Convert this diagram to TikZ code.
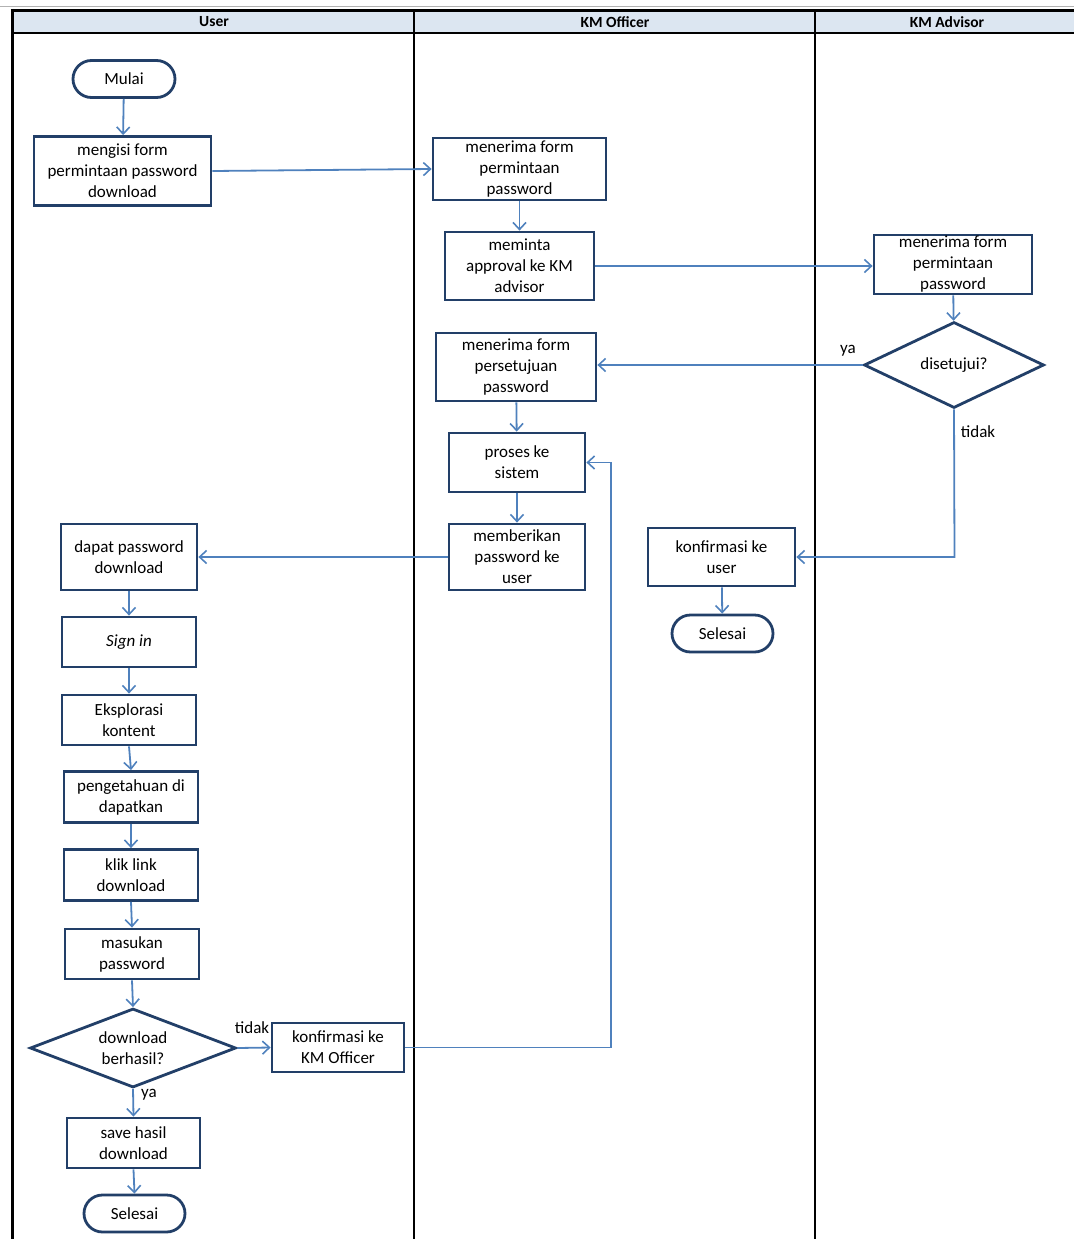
\documentclass[tikz,border=0pt]{standalone}
\usepackage{fontspec}
\setmainfont{Carlito}
\usetikzlibrary{shapes.geometric,shapes.misc,arrows.meta}
\definecolor{boxline}{HTML}{223F68}
\definecolor{flow}{HTML}{4F81BD}
\definecolor{lanehead}{HTML}{DCE6F1}
\begin{document}
\begin{tikzpicture}[x=1pt,y=-1pt,
  stepbox/.style={draw=boxline,line width=2.8pt,rectangle,align=center,
    inner sep=0pt,font=\fontsize{17}{21}\selectfont},
  term/.style={draw=boxline,line width=2.8pt,rounded rectangle,align=center,
    inner sep=0pt,font=\fontsize{17}{21}\selectfont},
  choice/.style={draw=boxline,line width=2.8pt,diamond,aspect=2,align=center,
    inner sep=0pt,font=\fontsize{17}{21}\selectfont},
  flowline/.style={draw=flow,line width=1.8pt,-{Straight Barb[length=7pt,width=13pt,line width=1.6pt]}},
  lbl/.style={font=\fontsize{17}{19}\selectfont,inner sep=1pt},
  head/.style={font=\fontsize{15.5}{17}\selectfont\bfseries}]
\useasboundingbox (0,0) rectangle (1074,1239);

% swimlane frame
\fill[lanehead] (12,11) rectangle (1074,33);
\draw[gray!60,line width=1pt] (0,6.5) -- (1074,6.5);
\draw[line width=3pt] (10.5,10.5) -- (1074,10.5);
\draw[line width=2.4pt] (12,33) -- (1074,33);
\draw[line width=3pt] (12,9) -- (12,1239);
\draw[line width=2pt] (414,10) -- (414,1239);
\draw[line width=2pt] (815,10) -- (815,1239);
\node[head] (hUser) at (214,22) {User};
\node[head] (hOfficer) at (615,22) {KM Officer};
\node[head] (hAdvisor) at (947,22) {KM Advisor};

% User lane
\node[term,minimum width=102pt,minimum height=37pt] (mulai) at (124,79) {Mulai};
\node[stepbox,minimum width=177pt,minimum height=69pt] (isi) at (122.5,171) {mengisi form\\permintaan password\\download};
\node[stepbox,minimum width=136pt,minimum height=66pt] (dapat) at (129,557) {dapat password\\download};
\node[stepbox,minimum width=134pt,minimum height=50pt] (signin) at (129,642) {\itshape Sign in};
\node[stepbox,minimum width=134pt,minimum height=50pt] (eksplor) at (129,720) {Eksplorasi\\kontent};
\node[stepbox,minimum width=134pt,minimum height=51pt] (tahu) at (131,797) {pengetahuan di\\dapatkan};
\node[stepbox,minimum width=134pt,minimum height=51pt] (klik) at (131,875) {klik link\\download};
\node[stepbox,minimum width=134pt,minimum height=50pt] (masuk) at (132,954) {masukan\\password};
\node[choice,minimum width=206pt,minimum height=79pt] (berhasil) at (133,1048) {download\\berhasil?};
\node[stepbox,minimum width=133pt,minimum height=50pt] (save) at (133.5,1143) {save hasil\\download};
\node[term,minimum width=101pt,minimum height=37pt] (selesaiA) at (134.5,1213.5) {Selesai};

% KM Officer lane
\node[stepbox,minimum width=173pt,minimum height=62pt] (terima) at (519.5,169) {menerima form\\permintaan\\password};
\node[stepbox,minimum width=149pt,minimum height=68pt] (minta) at (519.5,266) {meminta\\approval ke KM\\advisor};
\node[stepbox,minimum width=160pt,minimum height=68pt] (setuju) at (516,367) {menerima form\\persetujuan\\password};
\node[stepbox,minimum width=136pt,minimum height=59pt] (proses) at (517,462.5) {proses ke\\sistem};
\node[stepbox,minimum width=136pt,minimum height=66pt] (beri) at (517,557) {memberikan\\password ke\\user};
\node[stepbox,minimum width=132pt,minimum height=49pt] (konfOff) at (338,1047.5) {konfirmasi ke\\KM Officer};
\node[stepbox,minimum width=147pt,minimum height=58pt] (konfUser) at (721.5,557) {konfirmasi ke\\user};
\node[term,minimum width=101pt,minimum height=37pt] (selesaiB) at (722.5,633.5) {Selesai};

% KM Advisor lane
\node[stepbox,minimum width=158pt,minimum height=59pt] (terimaAdv) at (953,264.5) {menerima form\\permintaan\\password};
\node[choice,minimum width=180pt,minimum height=86pt] (disetujui) at (954,365) {disetujui?};

% turn points of the return path
\coordinate (backR) at (611,1047.5);
\coordinate (backT) at (611,462.5);
\coordinate (tidakT) at (954.5,557);

% connectors
\draw[flowline] (mulai) -- (isi);
\draw[flowline] (isi.east) -- (terima.west);
\draw[flowline] (terima) -- (minta);
\draw[flowline] (minta.east) -- (terimaAdv.west |- minta.east);
\draw[flowline] (terimaAdv) -- (disetujui);
\draw[flowline] (disetujui.west) -- (setuju.east |- disetujui.west);
\draw[flowline] (setuju) -- (proses);
\draw[flowline] (proses) -- (beri);
\draw[flowline] (beri.west) -- (dapat.east |- beri.west);
\draw[flowline] (disetujui.south) -- (tidakT) -- (konfUser.east);
\draw[flowline] (konfUser) -- (selesaiB);
\draw[flowline] (dapat.south) -- (signin.north);
\draw[flowline] (signin.south) -- (eksplor.north);
\draw[flowline] (eksplor.south) -- (tahu.north);
\draw[flowline] (tahu.south) -- (klik.north);
\draw[flowline] (klik.south) -- (masuk.north);
\draw[flowline] (masuk.south) -- (berhasil.north);
\draw[flowline] (berhasil.east) -- (konfOff.west);
\draw[flowline] (konfOff.east) -- (backR) -- (backT) -- (proses.east);
\draw[flowline] (berhasil.south) -- (save.north);
\draw[flowline] (save.south) -- (selesaiA.north);

% branch labels
\node[lbl] (yaAdv) at (848,351) {ya};
\node[lbl] (tidakAdv) at (978,432) {tidak};
\node[lbl] (tidakUser) at (252,1028) {tidak};
\node[lbl] (yaUser) at (149,1095) {ya};
\end{tikzpicture}
\end{document}
